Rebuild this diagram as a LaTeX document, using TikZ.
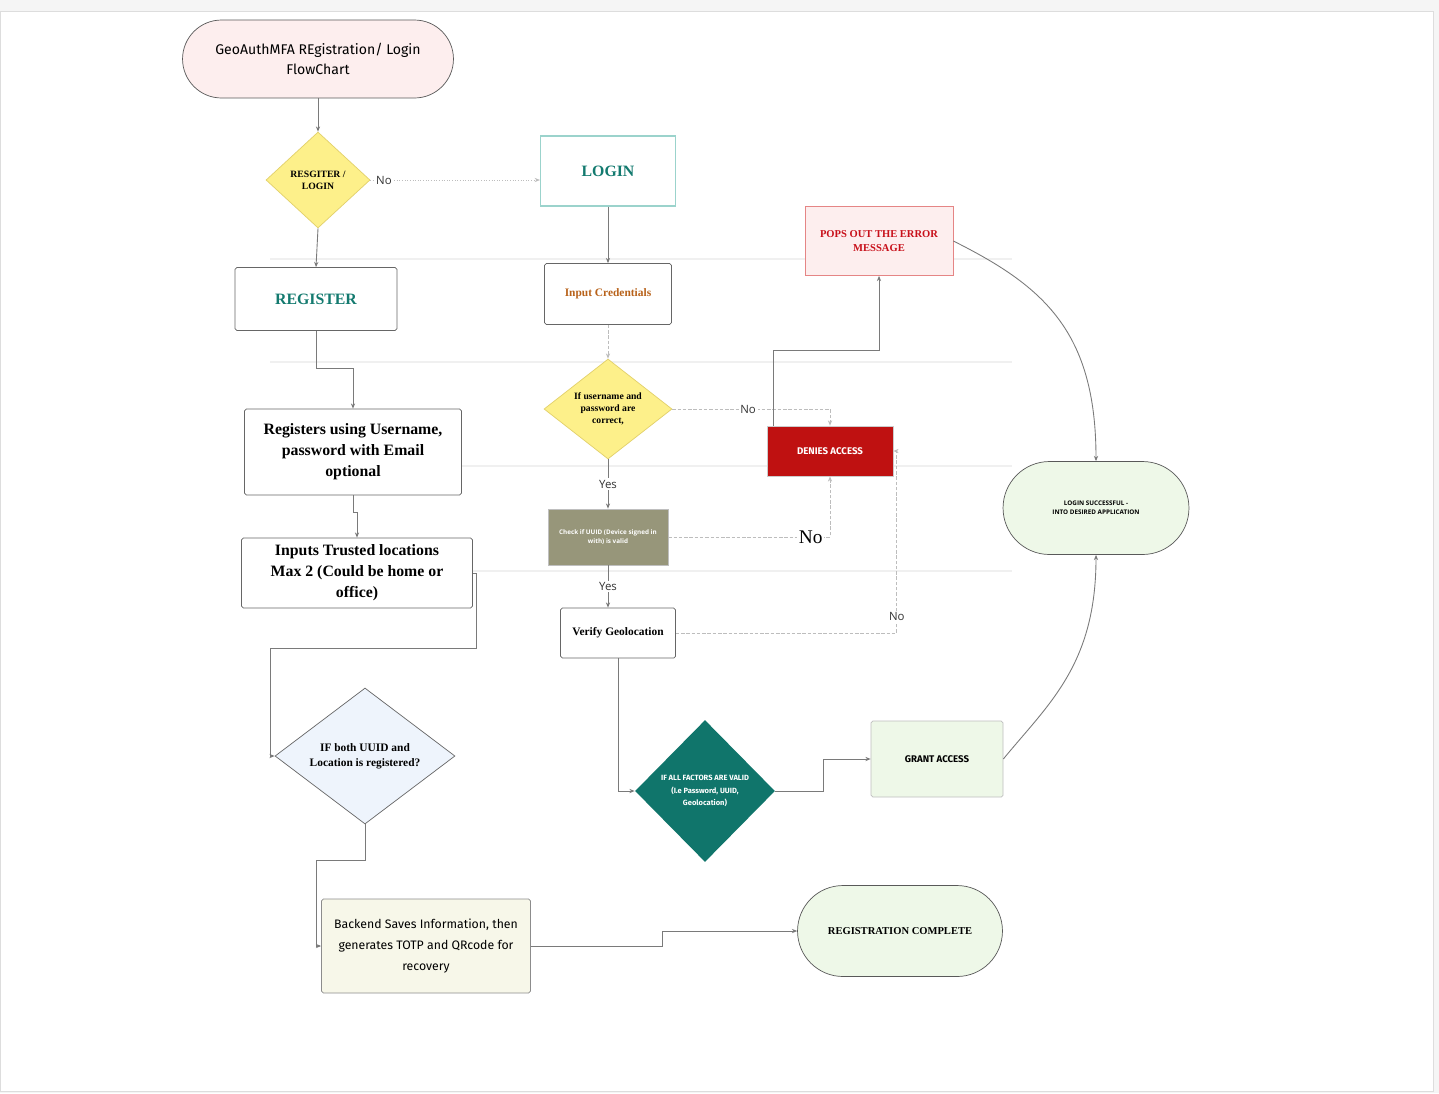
\documentclass[tikz,border=0pt]{standalone}
\usepackage{fontspec}
\setmainfont{Liberation Serif}
\setsansfont{Open Sans}
\newfontfamily\handfont{Fira Sans}
\usetikzlibrary{shapes.geometric, shapes.misc, arrows.meta}
\definecolor{pagegrey}{HTML}{F5F5F5}
\definecolor{canvasline}{HTML}{DDDDDD}
\definecolor{gridgrey}{HTML}{F0F0F0}
\definecolor{linegrey}{HTML}{7A7A7A}
\definecolor{dashgrey}{HTML}{BDBDBD}
\definecolor{pinkfill}{HTML}{FDEEEE}
\definecolor{yellowfill}{HTML}{FDF08A}
\definecolor{yellowdraw}{HTML}{E2D06A}
\definecolor{tealtext}{HTML}{137A6F}
\definecolor{logindraw}{HTML}{9BD3CC}
\definecolor{orangetext}{HTML}{B8621A}
\definecolor{olivefill}{HTML}{97967A}
\definecolor{denyred}{HTML}{BF1111}
\definecolor{errorred}{HTML}{C8101A}
\definecolor{errordraw}{HTML}{E58585}
\definecolor{greenfill}{HTML}{EEF8E8}
\definecolor{bluefill}{HTML}{EEF4FC}
\definecolor{darkteal}{HTML}{10756B}
\definecolor{creamfill}{HTML}{F7F7E9}

\begin{document}
\begin{tikzpicture}[x=0.02cm, y=-0.02cm, >={Stealth[length=3pt, width=2.4pt]}]
\tikzstyle{pill} = [rounded rectangle, draw=black!65, align=center, inner sep=2pt]
\tikzstyle{decision} = [diamond, draw=yellowdraw, fill=yellowfill, align=center, inner sep=0pt]
\tikzstyle{process} = [rectangle, rounded corners=1pt, draw=black!60, fill=white, align=center, inner sep=2pt]
\tikzstyle{slab} = [font=\bfseries\fontsize{9}{12}\selectfont]
\tikzstyle{link} = [->, draw=linegrey, line width=0.5pt]
\tikzstyle{dashlink} = [->, draw=dashgrey, line width=0.5pt, dash pattern=on 2pt off 1pt]
\tikzstyle{lbl} = [fill=white, inner sep=1pt, text=black!80, font=\sffamily\fontsize{6.5}{8}\selectfont]

\useasboundingbox (0,0) rectangle (1439,1093);

% canvas
\fill[pagegrey] (0,0) rectangle (1439,1093);
\draw[canvasline, fill=white] (0,11) rectangle (1433,1091);
\foreach \y in {259, 362, 466, 571} {
    \draw[gridgrey, line width=0.6pt] (270,\y) -- (1012,\y);
}

% registration column
\node (title) [pill, fill=pinkfill, minimum width=5.56cm, minimum height=1.56cm, font=\handfont\fontsize{8}{11}\selectfont] at (318,59) {GeoAuthMFA REgistration/ Login\\FlowChart};
\node (choose) [decision, minimum width=2.08cm, minimum height=1.92cm, font=\bfseries\fontsize{5.5}{7}\selectfont] at (318,180) {RESGITER /\\LOGIN};
\node (register) [process, minimum width=3.24cm, minimum height=1.26cm, text=tealtext, font=\bfseries\fontsize{9}{11}\selectfont] at (316,299) {REGISTER};
\node (details) [process, slab, minimum width=4.34cm, minimum height=1.72cm] at (353,452) {Registers using Username,\\password with Email\\optional};
\node (places) [process, slab, minimum width=4.62cm, minimum height=1.40cm] at (357,573) {Inputs Trusted locations\\Max 2 (Could be home or\\office)};
\node (bothreg) [diamond, draw=black!60, fill=bluefill, align=center, inner sep=0pt, minimum width=3.6cm, minimum height=2.72cm, font=\bfseries\fontsize{6.5}{8.5}\selectfont] at (365,756) {IF both UUID and\\Location is registered?};
\node (backend) [process, fill=creamfill, draw=black!45, minimum width=4.18cm, minimum height=1.88cm, font=\handfont\fontsize{7}{12}\selectfont] at (426,946) {Backend Saves Information, then\\generates TOTP and QRcode for\\recovery};
\node (complete) [pill, fill=greenfill, minimum width=4.24cm, minimum height=1.82cm, font=\bfseries\fontsize{6}{8}\selectfont] at (900,931) {REGISTRATION COMPLETE};

% login column
\node (login) [rectangle, draw=logindraw, fill=white, line width=0.7pt, minimum width=2.7cm, minimum height=1.4cm, text=tealtext, font=\bfseries\fontsize{9}{11}\selectfont] at (608,171) {LOGIN};
\node (creds) [process, minimum width=2.54cm, minimum height=1.22cm, text=orangetext, font=\bfseries\fontsize{6.5}{8}\selectfont] at (608,294) {Input Credentials};
\node (correct) [decision, minimum width=2.56cm, minimum height=2.0cm, font=\bfseries\fontsize{5.5}{6.8}\selectfont] at (608,409) {If username and\\password are\\correct,};
\node (uuid) [rectangle, draw=black!25, fill=olivefill, text=white, align=center, minimum width=2.4cm, minimum height=1.12cm, font=\sffamily\bfseries\fontsize{3.6}{5.2}\selectfont] at (608,537) {Check if UUID (Device signed in\\with) is valid};
\node (geo) [process, minimum width=2.3cm, minimum height=1.0cm, font=\bfseries\fontsize{6.5}{8}\selectfont] at (618,633) {Verify Geolocation};
\node (allvalid) [diamond, fill=darkteal, text=white, align=center, inner sep=0pt, minimum width=2.8cm, minimum height=2.84cm, font=\handfont\bfseries\fontsize{4.3}{7}\selectfont] at (705,791) {IF ALL FACTORS ARE VALID\\(I.e Password, UUID,\\Geolocation)};
\node (grant) [process, fill=greenfill, draw=black!25, minimum width=2.64cm, minimum height=1.52cm, font=\handfont\bfseries\fontsize{5.5}{7}\selectfont] at (937,759) {GRANT ACCESS};

% outcomes
\node (deny) [rectangle, draw=black!20, fill=denyred, text=white, minimum width=2.52cm, minimum height=1.0cm, font=\handfont\bfseries\fontsize{5.5}{7}\selectfont] at (830,451) {DENIES ACCESS};
\node (error) [rectangle, draw=errordraw, fill=pinkfill, text=errorred, align=center, minimum width=2.96cm, minimum height=1.38cm, font=\bfseries\fontsize{6}{8}\selectfont] at (879,241) {POPS OUT THE ERROR\\MESSAGE};
\node (success) [pill, fill=greenfill, minimum width=3.86cm, minimum height=1.86cm, font=\sffamily\bfseries\fontsize{3.6}{5}\selectfont] at (1096,508) {LOGIN SUCCESSFUL -\\INTO DESIRED APPLICATION};

% registration flow
\draw[link] (title.south) -- (choose.north);
\draw[link] (choose.south) -- (register.north);
\draw[link] (register.south) -- ++(0,38) -| (details.north);
\draw[link] (details.south) -- ++(0,17) -| (places.north);
\draw[link] (places.east) -- ++(4,0) -- ++(0,75) -| ([xshift=-0.08cm]bothreg.west) -- (bothreg.west);
\draw[link] (bothreg.south) -- ++(0,36) -| ([xshift=-0.1cm]backend.west) -- (backend.west);
\draw[link] (backend.east) -- ++(132,0) |- (complete.west);

% login flow
\draw[->, draw=dashgrey, line width=0.5pt, densely dotted] (choose.east) -- node[lbl, pos=0.08] {No} (choose.east -| login.west);
\draw[link] (login.south) -- (creds.north);
\draw[dashlink] (creds.south) -- (correct.north);
\draw[link] (correct.south) -- node[lbl] {Yes} (uuid.north);
\draw[link] (uuid.south) -- node[lbl] {Yes} (uuid.south |- geo.north);
\draw[link] (geo.south) |- (allvalid.west);
\draw[link] (allvalid.east) -- ++(48,0) |- (grant.west);

% rejections
\draw[dashlink] (correct.east) -| node[lbl, pos=0.24] {No} (deny.north);
\draw[dashlink] (uuid.east) -| node[lbl, pos=0.44, font=\fontsize{11}{12}\selectfont, text=black] {No} (deny.south);
\draw[dashlink] (geo.east) -- ++(221,0) node[lbl, above=0.2cm] {No} |- (deny.east);
\draw[link] ([xshift=0.14cm]deny.north west) -- ++(0,-75) -| (error.south);

% ends
\draw[link] (error.east) .. controls +(90,45) and +(0,-130) .. (success.north);
\draw[link] (grant.east) .. controls +(45,-55) and +(0,110) .. (success.south);

\end{tikzpicture}
\end{document}
